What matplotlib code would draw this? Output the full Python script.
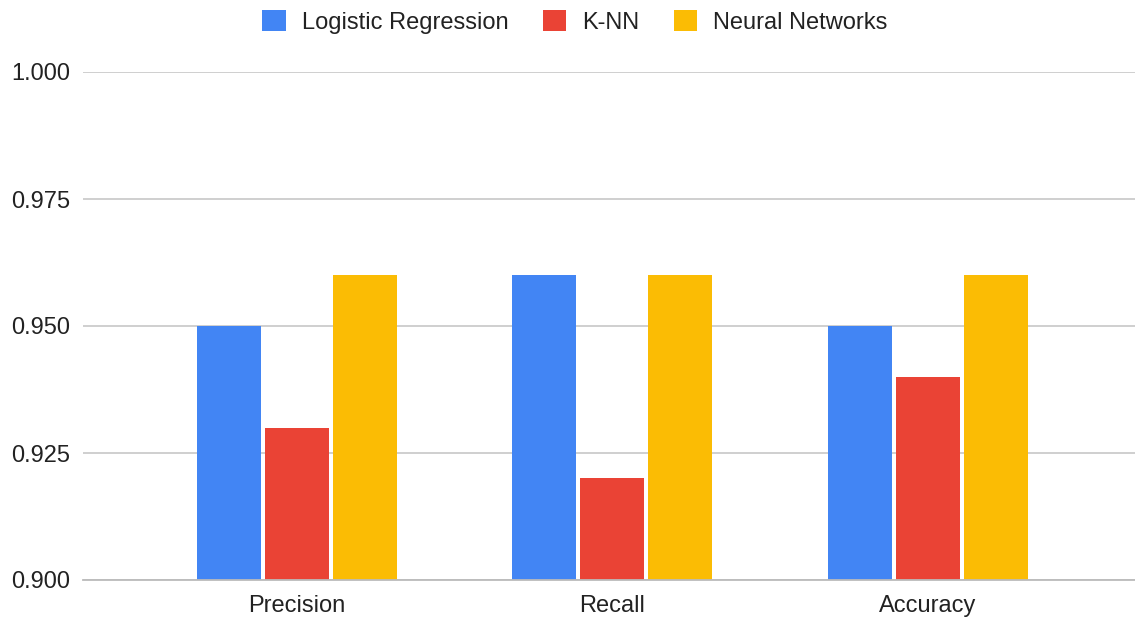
import numpy as np
import matplotlib.pyplot as plt
from matplotlib.patches import Patch

plt.rcParams['font.family'] = ['Liberation Sans', 'DejaVu Sans']

metrics = ['Precision', 'Recall', 'Accuracy']
logreg = [0.95, 0.96, 0.95]
knn = [0.93, 0.92, 0.94]
neural = [0.96, 0.96, 0.96]
series_names = ['Logistic Regression', 'K-NN', 'Neural Networks']
colors = ['#4285f4', '#ea4335', '#fbbc04']

W, H = 1135, 617
fig = plt.figure(figsize=(W / 100, H / 100), dpi=100)
# axes placed in pixel terms: left edge 83px, top 72px, bottom 580px
ax = fig.add_axes([83 / W, 1 - 580 / H, (W - 83) / W, (580 - 72) / H])

x = np.arange(len(metrics))
width = 0.203
step = 0.2155
for i, (vals, c) in enumerate(zip([logreg, knn, neural], colors)):
    ax.bar(x + (i - 1) * step, np.array(vals) - 0.9, width, bottom=0.9,
           color=c, zorder=3, label=series_names[i])

ax.set_ylim(0.9, 1.0)
ax.set_xlim(-0.678, 2.656)
ax.set_yticks([0.9, 0.925, 0.95, 0.975, 1.0])
ax.set_yticklabels(['0.900', '0.925', '0.950', '0.975', '1.000'])
ax.set_xticks(x)
ax.set_xticklabels(metrics)
ax.tick_params(axis='both', length=0, labelsize=17, colors='#222222')
ax.tick_params(axis='y', pad=9)
ax.tick_params(axis='x', pad=11)
ax.grid(axis='y', color='#cccccc', linewidth=1.3, zorder=0)
for s in ['top', 'right', 'left']:
    ax.spines[s].set_visible(False)
ax.spines['bottom'].set_color('#bbbbbb')
ax.spines['bottom'].set_linewidth(1.3)
ax.spines['bottom'].set_zorder(4)

handles = [Patch(facecolor=c, edgecolor='none') for c in colors]
fig.legend(handles, series_names, loc='center', bbox_to_anchor=(575 / W, 1 - 22 / H),
           ncol=3, frameon=False, fontsize=17, handlelength=1.0, handleheight=1.0,
           handletextpad=0.68, columnspacing=1.44, labelcolor='#222222')

fig.savefig('out.png', dpi=100)
